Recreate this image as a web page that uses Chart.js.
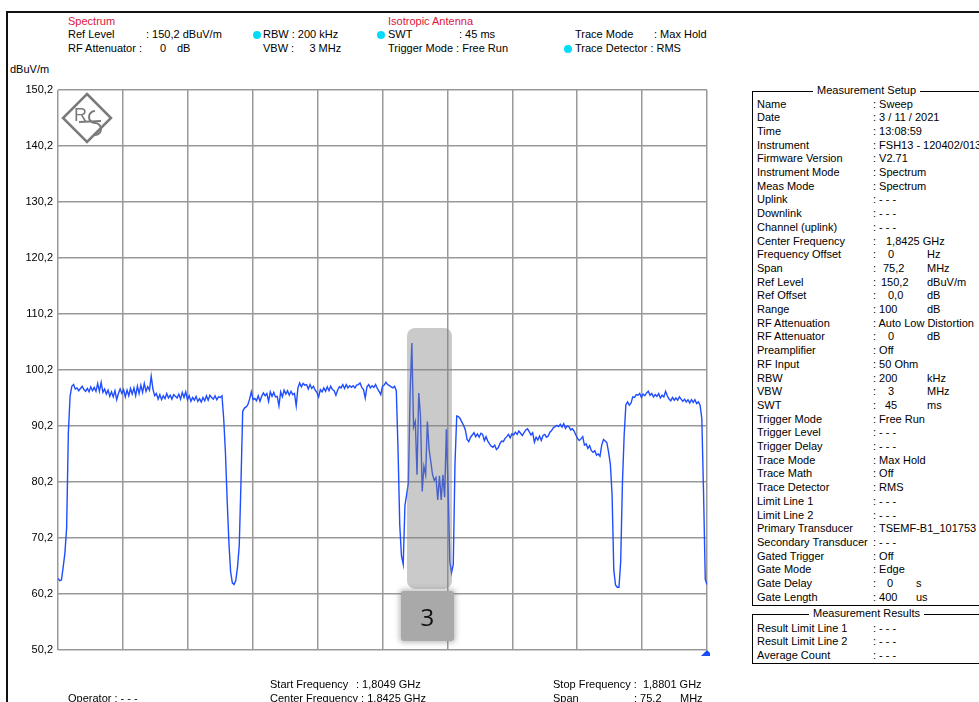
<!DOCTYPE html>
<html>
<head>
<meta charset="utf-8">
<title>Spectrum - Isotropic Antenna</title>
<script src="https://cdn.jsdelivr.net/npm/chart.js@4.4.1/dist/chart.umd.min.js"></script>
<style>
  html, body { margin: 0; padding: 0; background: #fff; }
  #page {
    position: relative; width: 979px; height: 702px; overflow: hidden;
    font-family: "Liberation Sans", Arial, sans-serif; font-size: 11px; color: #000;
  }
  .t { position: absolute; white-space: pre; line-height: 13px; }
  .red { color: #dc143c; }
  .dot { position: absolute; width: 8px; height: 8px; border-radius: 50%; background: #00dcf5; }
  #frameTop { position: absolute; left: 6px; top: 11px; right: 0; height: 2px; background: #111; }
  #frameLeft { position: absolute; left: 6px; top: 11px; width: 2px; bottom: 0; background: #111; }
  #trace { position: absolute; left: 0; top: 0; }
  .box { position: absolute; border: 1px solid #000; border-right: none; }
  .boxTitle { position: absolute; background: #fff; padding: 0 4px; white-space: pre; line-height: 13px; }
  #markLabel {
    position: absolute; background: #a9a9a9; border-radius: 3px;
    box-shadow: 0 0 5px 2px rgba(120,120,120,0.45);
    font-family: "Open Sans", "Liberation Sans", sans-serif; font-size: 24px; color: #111;
    display: flex; align-items: center; justify-content: center;
  }
</style>
</head>
<body>
<div id="page">
  <div id="frameTop"></div>
  <div id="frameLeft"></div>

  <!-- header -->
  <div class="t red" style="left:68px;top:15px">Spectrum</div>
  <div class="t" style="left:68px;top:28px">Ref Level</div>
  <div class="t" style="left:146px;top:28px">: 150,2 dBuV/m</div>
  <div class="t" style="left:68px;top:42px">RF Attenuator :</div>
  <div class="t" style="left:160px;top:42px">0</div>
  <div class="t" style="left:177px;top:42px">dB</div>
  <div class="dot" style="left:253px;top:31px"></div>
  <div class="t" style="left:263px;top:28px">RBW : 200 kHz</div>
  <div class="t" style="left:263px;top:42px">VBW :     3 MHz</div>
  <div class="t red" style="left:388px;top:15px">Isotropic Antenna</div>
  <div class="dot" style="left:377px;top:31px"></div>
  <div class="t" style="left:388px;top:28px">SWT</div>
  <div class="t" style="left:459px;top:28px">: 45 ms</div>
  <div class="t" style="left:388px;top:42px">Trigger Mode : Free Run</div>
  <div class="t" style="left:575px;top:28px">Trace Mode</div>
  <div class="t" style="left:654px;top:28px">: Max Hold</div>
  <div class="dot" style="left:564px;top:45px"></div>
  <div class="t" style="left:575px;top:42px">Trace Detector : RMS</div>
  <div class="t" style="left:10px;top:63px">dBuV/m</div>

  <canvas id="trace" width="710" height="702"></canvas>
  <div id="markLabel">3</div>

  <!-- measurement setup panel -->
  <div class="box" style="left:752px;top:91px;width:260px;height:513px"></div>
  <div class="boxTitle" style="left:813px;top:84px">Measurement Setup</div>
  <div id="setupRows"></div>
  <div class="box" style="left:752px;top:614px;width:260px;height:48px"></div>
  <div class="boxTitle" style="left:809px;top:607px">Measurement Results</div>

  <!-- footer -->
  <div class="t" style="left:270px;top:678px">Start Frequency</div>
  <div class="t" style="left:356px;top:678px">: 1,8049 GHz</div>
  <div class="t" style="left:270px;top:692px">Center Frequency : 1,8425 GHz</div>
  <div class="t" style="left:553px;top:678px">Stop Frequency :  1,8801 GHz</div>
  <div class="t" style="left:553px;top:692px">Span</div>
  <div class="t" style="left:634px;top:692px">: 75,2</div>
  <div class="t" style="left:680px;top:692px">MHz</div>
  <div class="t" style="left:68px;top:692px">Operator : - - -</div>
</div>

<script>
// sweep settings
const startFreqMHz = 1804.9;
const stopFreqMHz = 1880.1;
const sweepStepMHz = 0.2;
const xDivisions = 10;

// y axis (dBuV/m)
const refLevel = 150.2;
const bottomLevel = 50.2;
const yTickValues = [50.2, 60.2, 70.2, 80.2, 90.2, 100.2, 110.2, 120.2, 130.2, 140.2, 150.2];

// Max Hold trace, one value per sweep point (dBuV/m)
const levelDbuvm = [
  63.0, 62.6, 62.7, 65.0, 67.5, 72.0, 89.0, 95.5, 97.3, 97.6,
  96.8, 97.0, 96.5, 96.9, 97.3, 96.7, 96.4, 96.9, 96.3, 97.2,
  96.5, 97.1, 96.4, 97.8, 96.4, 98.0, 96.2, 96.8, 95.9, 96.6,
  95.5, 96.3, 95.4, 96.5, 94.9, 96.0, 96.8, 96.0, 96.7, 95.4,
  96.6, 95.6, 96.9, 95.9, 97.0, 95.6, 97.3, 96.0, 97.5, 96.2,
  97.8, 96.4, 97.2, 96.6, 99.1, 96.8, 95.6, 96.0, 95.0, 95.8,
  94.9, 95.6, 95.1, 96.0, 95.2, 95.7, 95.0, 95.8, 95.5, 95.2,
  95.9, 95.0, 96.2, 95.3, 96.3, 94.9, 95.6, 94.6, 95.3, 94.8,
  95.5, 94.6, 95.1, 94.5, 95.3, 94.7, 95.6, 94.8, 95.7, 95.3,
  95.0, 95.6, 94.9, 95.4, 95.3, 95.6, 91.5, 85.5, 77.0, 69.5,
  64.2, 62.2, 61.9, 62.6, 65.0, 68.8, 80.0, 92.8, 93.4, 93.6,
  94.0, 95.0, 96.3, 94.9, 95.1, 94.7, 95.6, 94.6, 95.5, 96.1,
  95.6, 96.0, 94.6, 96.3, 95.5, 96.2, 95.4, 95.5, 93.8, 96.3,
  95.4, 96.6, 95.9, 96.5, 95.7, 96.4, 95.8, 96.0, 93.8, 97.0,
  97.9, 97.2, 97.8, 97.5, 97.6, 96.8, 97.6, 96.9, 97.3, 96.6,
  96.2, 95.4, 96.7, 96.3, 97.0, 96.4, 97.2, 96.5, 97.3, 96.7,
  96.5, 95.7, 96.6, 97.2, 97.0, 97.6, 96.9, 97.6, 97.0, 97.4,
  97.1, 97.4, 97.0, 97.5, 97.6, 97.9, 97.1, 96.7, 95.2, 97.2,
  97.6, 97.0, 97.4, 97.1, 97.6, 96.9, 96.4, 95.8, 97.3, 97.5,
  98.0, 97.6, 97.4, 97.2, 97.0, 97.3, 96.5, 86.0, 72.5, 67.0,
  65.5, 76.0, 78.0, 80.0, 96.0, 105.0, 90.0, 91.0, 81.5, 96.1,
  92.0, 78.5, 83.0, 81.5, 91.0, 86.0, 83.8, 81.5, 80.5, 81.0,
  77.0, 81.3, 77.0, 81.5, 77.5, 89.6, 79.0, 66.0, 64.0, 65.5,
  83.5, 92.0, 91.9, 91.5, 90.9, 90.3, 89.5, 87.8, 87.4, 88.2,
  88.6, 89.0, 88.3, 88.8, 88.2, 88.9, 88.7, 87.6, 88.3, 87.5,
  87.0, 86.6, 86.4, 86.8, 86.0, 86.3, 87.0, 87.5, 87.4, 88.0,
  88.3, 88.7, 88.1, 88.8, 88.6, 89.1, 88.7, 89.3, 88.9, 88.5,
  89.0, 89.5, 89.7, 89.2, 88.6, 89.0, 87.3, 88.2, 87.7, 88.4,
  87.6, 88.5, 88.7, 88.2, 88.4, 89.1, 89.4, 89.9, 90.1, 90.3,
  90.1, 90.5, 90.0, 90.6, 89.8, 90.2, 90.1, 89.5, 89.7, 89.3,
  88.6, 88.0, 87.6, 87.9, 88.3, 86.8, 87.0, 86.2, 86.7, 85.8,
  85.5, 85.8, 85.0, 85.2, 84.8, 86.8, 87.8, 87.5, 87.2, 85.5,
  83.4, 78.0, 64.5, 61.8, 61.4, 61.4, 66.0, 80.0, 88.5, 94.0,
  94.5, 93.9, 94.3, 95.4, 95.3, 95.8, 95.7, 96.0, 95.3, 95.9,
  95.6, 96.1, 96.4, 95.7, 96.0, 95.4, 95.8, 95.5, 96.0, 95.2,
  95.7, 95.4, 96.4, 95.6, 95.0, 94.7, 95.3, 94.8, 95.2, 94.8,
  95.4, 95.0, 94.6, 95.0, 94.5, 94.9, 94.3, 94.9, 94.4, 94.9,
  94.2, 94.5, 93.9, 91.5, 78.3, 62.8, 61.9
];

// highlighted burst (marker 3) in data units
const highlightFreqMHz = [1845.34, 1850.55];
const highlightLevel = [61.1, 107.7];
const labelFreqMHz = [1844.64, 1850.78];
const labelLevel = [51.8, 60.7];

const setupRows = [
  ['Name', ': Sweep'],
  ['Date', ': 3 / 11 / 2021'],
  ['Time', ': 13:08:59'],
  ['Instrument', ': FSH13 - 120402/013'],
  ['Firmware Version', ': V2.71'],
  ['Instrument Mode', ': Spectrum'],
  ['Meas Mode', ': Spectrum'],
  ['Uplink', ': - - -'],
  ['Downlink', ': - - -'],
  ['Channel (uplink)', ': - - -'],
  ['Center Frequency', ':', '1,8425 GHz', 886],
  ['Frequency Offset', ':', '0', 888, 'Hz', 927],
  ['Span', ':', '75,2', 883, 'MHz', 927],
  ['Ref Level', ':', '150,2', 881, 'dBuV/m', 927],
  ['Ref Offset', ':', '0,0', 888, 'dB', 927],
  ['Range', ': 100', null, 0, 'dB', 927],
  ['RF Attenuation', ': Auto Low Distortion'],
  ['RF Attenuator', ':', '0', 888, 'dB', 927],
  ['Preamplifier', ': Off'],
  ['RF Input', ': 50 Ohm'],
  ['RBW', ': 200', null, 0, 'kHz', 927],
  ['VBW', ':', '3', 888, 'MHz', 927],
  ['SWT', ':', '45', 885, 'ms', 927],
  ['Trigger Mode', ': Free Run'],
  ['Trigger Level', ': - - -'],
  ['Trigger Delay', ': - - -'],
  ['Trace Mode', ': Max Hold'],
  ['Trace Math', ': Off'],
  ['Trace Detector', ': RMS'],
  ['Limit Line 1', ': - - -'],
  ['Limit Line 2', ': - - -'],
  ['Primary Transducer', ': TSEMF-B1_101753'],
  ['Secondary Transducer', ': - - -'],
  ['Gated Trigger', ': Off'],
  ['Gate Mode', ': Edge'],
  ['Gate Delay', ':', '0', 887, 's', 916],
  ['Gate Length', ': 400', null, 0, 'us', 916]
];
const resultRows = [
  ['Result Limit Line 1', ': - - -'],
  ['Result Limit Line 2', ': - - -'],
  ['Average Count', ': - - -']
];

function addText(parent, text, left, top) {
  const d = document.createElement('div');
  d.className = 't';
  d.style.left = left + 'px';
  d.style.top = top + 'px';
  d.textContent = text;
  parent.appendChild(d);
}

const rowsEl = document.getElementById('setupRows');
setupRows.forEach((r, i) => {
  const top = 97.5 + i * 13.7;
  addText(rowsEl, r[0], 757, top);
  addText(rowsEl, r[1], 873, top);
  if (r[2]) addText(rowsEl, r[2], r[3], top);
  if (r[4]) addText(rowsEl, r[4], r[5], top);
});
resultRows.forEach((r, i) => {
  const top = 621.5 + i * 13.7;
  addText(rowsEl, r[0], 757, top);
  addText(rowsEl, r[1], 873, top);
});

const tracePoints = levelDbuvm.map((v, i) => ({ x: startFreqMHz + i * sweepStepMHz, y: v }));
const xGrid = [];
for (let i = 0; i <= xDivisions; i++) {
  xGrid.push(startFreqMHz + i * (stopFreqMHz - startFreqMHz) / xDivisions);
}

const decorPlugin = {
  id: 'decor',
  beforeDatasetsDraw(chart) {
    // R&S logo in top-left of the grid
    const { ctx, chartArea } = chart;
    const cx = chartArea.left + 29, cy = chartArea.top + 28, h = 24;
    ctx.save();
    ctx.strokeStyle = '#7a7a7a';
    ctx.fillStyle = '#7a7a7a';
    ctx.lineWidth = 2.5;
    ctx.beginPath();
    ctx.moveTo(cx, cy - h);
    ctx.lineTo(cx + h, cy);
    ctx.lineTo(cx, cy + h);
    ctx.lineTo(cx - h, cy);
    ctx.closePath();
    ctx.stroke();
    ctx.font = '18px "Liberation Sans"';
    ctx.fillText('R', cx - 13, cy + 3);
    ctx.lineWidth = 2;
    ctx.beginPath();
    ctx.arc(cx + 8, cy - 1, 6, Math.PI * 1.5, Math.PI * 0.5, true);
    ctx.arc(cx + 8, cy + 11, 6, Math.PI * 1.5, Math.PI * 0.5, false);
    ctx.stroke();
    ctx.beginPath();
    ctx.moveTo(cx - 8, cy + 4);
    ctx.lineTo(cx + 14, cy + 3);
    ctx.stroke();
    ctx.restore();
  },
  afterDatasetsDraw(chart) {
    const { ctx, scales: { x, y } } = chart;
    // translucent highlight over the burst
    const l = x.getPixelForValue(highlightFreqMHz[0]);
    const r = x.getPixelForValue(highlightFreqMHz[1]);
    const t = y.getPixelForValue(highlightLevel[1]);
    const b = y.getPixelForValue(highlightLevel[0]);
    ctx.save();
    ctx.fillStyle = 'rgba(128,128,128,0.42)';
    ctx.beginPath();
    ctx.roundRect(l, t, r - l, b - t, 8);
    ctx.fill();
    // stop-frequency marker triangle
    const mx = x.getPixelForValue(stopFreqMHz);
    const my = y.getPixelForValue(bottomLevel);
    ctx.fillStyle = '#1a4cff';
    ctx.beginPath();
    ctx.moveTo(mx, my);
    ctx.lineTo(mx + 6, my + 6);
    ctx.lineTo(mx - 6, my + 6);
    ctx.closePath();
    ctx.fill();
    ctx.restore();
  }
};

const chart = new Chart(document.getElementById('trace'), {
  type: 'line',
  data: {
    datasets: [{
      data: tracePoints,
      borderColor: '#1f4dff',
      borderWidth: 1.4,
      pointRadius: 0,
      tension: 0,
      fill: false
    }]
  },
  options: {
    responsive: false,
    animation: false,
    events: [],
    layout: { padding: { left: 0, right: 3, top: 90, bottom: 52 } },
    plugins: { legend: { display: false }, tooltip: { enabled: false } },
    scales: {
      x: {
        type: 'linear',
        min: startFreqMHz,
        max: stopFreqMHz,
        afterBuildTicks: s => { s.ticks = xGrid.map(v => ({ value: v })); },
        ticks: { display: false },
        grid: { color: '#999', lineWidth: 1.5, drawTicks: false },
        border: { display: false },
        afterFit: s => { s.height = 0; }
      },
      y: {
        min: bottomLevel,
        max: refLevel,
        afterBuildTicks: s => { s.ticks = yTickValues.map(v => ({ value: v })); },
        ticks: {
          color: '#000',
          padding: 5,
          font: { family: 'Liberation Sans', size: 11 },
          callback: v => v.toFixed(1).replace('.', ',')
        },
        grid: { color: '#999', lineWidth: 1.5, drawTicks: false },
        border: { display: false },
        afterFit: s => { s.width = 58; }
      }
    }
  },
  plugins: [decorPlugin]
});

// place the "3" label from the chart's scales
const lbl = document.getElementById('markLabel');
const sx = chart.scales.x, sy = chart.scales.y;
const ll = sx.getPixelForValue(labelFreqMHz[0]);
const lr = sx.getPixelForValue(labelFreqMHz[1]);
const lt = sy.getPixelForValue(labelLevel[1]);
const lb = sy.getPixelForValue(labelLevel[0]);
lbl.style.left = ll + 'px';
lbl.style.top = lt + 'px';
lbl.style.width = (lr - ll) + 'px';
lbl.style.height = (lb - lt) + 'px';
</script>
</body>
</html>
